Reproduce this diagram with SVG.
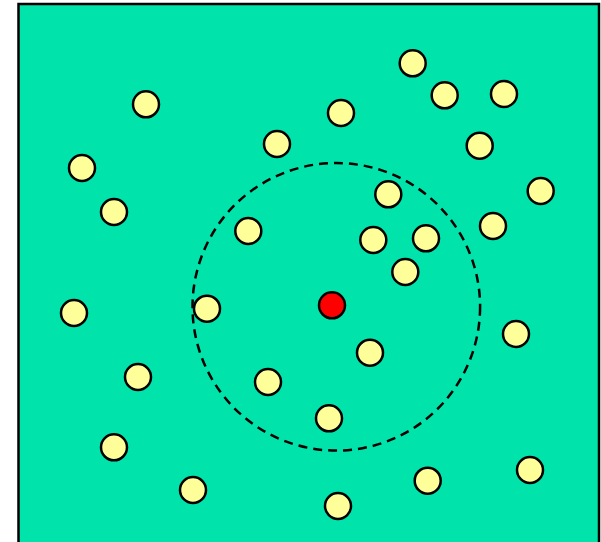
<svg xmlns="http://www.w3.org/2000/svg" width="601" height="542" viewBox="0 0 601 542">
<style>
.pt{fill:#FFFF99;stroke:#000;stroke-width:2.5}
.q{fill:#FF0000;stroke:#000;stroke-width:2.5}
</style>
<rect x="0" y="0" width="601" height="542" fill="#fff"/>
<rect id="field" x="18.5" y="4" width="580.5" height="545" fill="#00E3AA" stroke="#000" stroke-width="2.5"/>
<g id="range">
<circle cx="336.3" cy="306.8" r="143.8" fill="none" stroke="#000" stroke-width="2.5" stroke-dasharray="9,6"/>
</g>
<g id="points">
<circle class="pt" cx="146" cy="104.3" r="13"/>
<circle class="pt" cx="82" cy="168" r="13"/>
<circle class="pt" cx="114" cy="212" r="13"/>
<circle class="pt" cx="74" cy="313" r="13"/>
<circle class="pt" cx="138" cy="377" r="13"/>
<circle class="pt" cx="114" cy="447.3" r="13"/>
<circle class="pt" cx="193" cy="490" r="13"/>
<circle class="pt" cx="338" cy="506" r="13"/>
<circle class="pt" cx="427.7" cy="480.7" r="13"/>
<circle class="pt" cx="530" cy="470" r="13"/>
<circle class="pt" cx="516" cy="334" r="13"/>
<circle class="pt" cx="540.7" cy="191" r="13"/>
<circle class="pt" cx="493" cy="226" r="13"/>
<circle class="pt" cx="479.7" cy="145.7" r="13"/>
<circle class="pt" cx="504" cy="94" r="13"/>
<circle class="pt" cx="444.7" cy="95.3" r="13"/>
<circle class="pt" cx="412.7" cy="63.3" r="13"/>
<circle class="pt" cx="341" cy="113" r="13"/>
<circle class="pt" cx="277" cy="144" r="13"/>
<circle class="pt" cx="248.3" cy="231" r="13"/>
<circle class="pt" cx="388.3" cy="194.3" r="13"/>
<circle class="pt" cx="373.3" cy="240" r="13"/>
<circle class="pt" cx="426" cy="238.3" r="13"/>
<circle class="pt" cx="405.3" cy="272" r="13"/>
<circle class="pt" cx="207" cy="308.7" r="13"/>
<circle class="pt" cx="370" cy="352.7" r="13"/>
<circle class="pt" cx="268" cy="382" r="13"/>
<circle class="pt" cx="329" cy="418.3" r="13"/>
</g>
<g id="query">
<circle class="q" cx="332" cy="305.3" r="13"/>
</g>
</svg>
